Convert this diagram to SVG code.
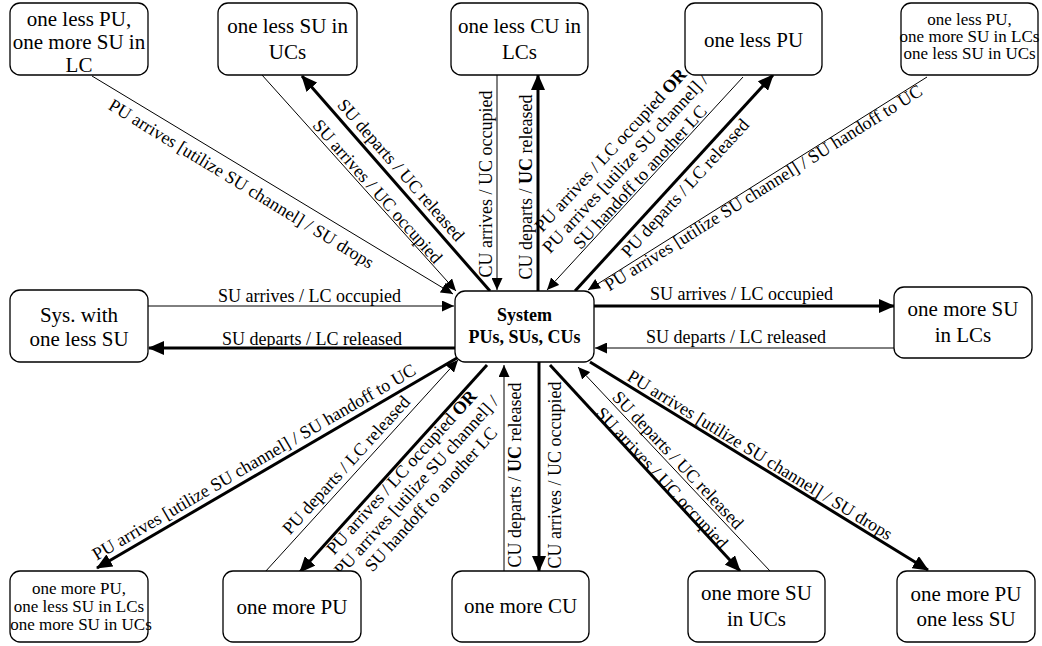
<svg xmlns="http://www.w3.org/2000/svg" width="1042" height="646" viewBox="0 0 1042 646">
<defs>
<marker id="a" markerWidth="12" markerHeight="11" refX="12" refY="5.5" orient="auto" markerUnits="userSpaceOnUse"><path d="M0,0 L12,5.5 L0,11 z" fill="#000"/></marker>
<marker id="b" markerWidth="16" markerHeight="14" refX="15" refY="7" orient="auto" markerUnits="userSpaceOnUse"><path d="M0,0 L16,7 L0,14 z" fill="#000"/></marker>
</defs>
<style>
.n rect{fill:#fff;stroke:#000;stroke-width:1.3}
.n text{font-family:"Liberation Serif","Times New Roman",serif;font-size:21px;text-anchor:middle;fill:#000}
.n text.s{font-size:17px}
.n text.c{font-size:18px;font-weight:bold}
.t{stroke:#000;stroke-width:1;marker-end:url(#a)}
.k{stroke:#000;stroke-width:3;marker-end:url(#b)}
.l{font-family:"Liberation Serif","Times New Roman",serif;font-size:18px;fill:#000}
.m{text-anchor:middle}
.e{text-anchor:end}
</style>
<rect width="1042" height="646" fill="#fff"/>
<g id="connectors">
<line class="t" x1="92" y1="76" x2="453" y2="294"/>
<line class="t" x1="262" y1="75" x2="456" y2="291"/>
<line class="k" x1="490" y1="291" x2="302" y2="76"/>
<line class="t" x1="497" y1="75" x2="497" y2="290"/>
<line class="k" x1="538" y1="291" x2="538" y2="75"/>
<line class="t" x1="743" y1="77" x2="547" y2="290"/>
<line class="k" x1="575" y1="291" x2="773" y2="75"/>
<line class="t" x1="927" y1="77" x2="588" y2="290"/>
<line class="t" x1="148" y1="306" x2="454" y2="306"/>
<line class="k" x1="455" y1="348" x2="149" y2="348"/>
<line class="k" x1="594" y1="306" x2="894" y2="306"/>
<line class="t" x1="894" y1="348" x2="595" y2="348"/>
<line class="k" x1="457" y1="358" x2="97" y2="568"/>
<line class="t" x1="265" y1="572" x2="458" y2="360"/>
<line class="k" x1="487" y1="365" x2="300" y2="572"/>
<line class="t" x1="504" y1="571" x2="504" y2="365"/>
<line class="k" x1="539" y1="362" x2="539" y2="571"/>
<line class="k" x1="550" y1="365" x2="740" y2="571"/>
<line class="t" x1="770" y1="571" x2="578" y2="367"/>
<line class="k" x1="590" y1="362" x2="928" y2="570"/>

<text class="l m" transform="translate(241.4,183.7) rotate(31.5)" y="6">PU arrives [utilize SU channel] / SU drops</text>
<text class="l m" transform="translate(377.6,191.4) rotate(48.5)" y="6">SU arrives / UC occupied</text>
<text class="l m" transform="translate(401,170) rotate(48.8)" y="6">SU departs / UC released</text>
<text class="l m" transform="translate(486,184) rotate(-90)" y="6">CU arrives / UC occupied</text>
<text class="l m" transform="translate(526,187) rotate(-90)" y="6">CU departs / <tspan font-weight="bold">UC</tspan> released</text>
<text class="l m" transform="translate(625.2,163.5) rotate(-47.4)"><tspan x="0" y="-14">PU arrives / LC occupied <tspan font-weight="bold">OR</tspan></tspan><tspan x="0" y="6">PU arrives [utilize SU channel] /</tspan><tspan x="0" y="26">SU handoff to another LC</tspan></text>
<text class="l m" transform="translate(685,188) rotate(-47.6)" y="6">PU departs / LC released</text>
<text class="l m" transform="translate(763.3,187.7) rotate(-32.1)" y="6">PU arrives [utilize SU channel] / SU handoff to UC</text>
<text class="l" x="218" y="302">SU arrives / LC occupied</text>
<text class="l" x="222" y="345">SU departs / LC released</text>
<text class="l e" x="833" y="300">SU arrives / LC occupied</text>
<text class="l e" x="826" y="343">SU departs / LC released</text>
<text class="l m" transform="translate(254,462) rotate(-30.3)" y="6">PU arrives [utilize SU channel] / SU handoff to UC</text>
<text class="l m" transform="translate(346,465) rotate(-47.7)" y="6">PU departs / LC released</text>
<text class="l m" transform="translate(416.2,485.7) rotate(-47.9)"><tspan x="0" y="-14">PU arrives / LC occupied <tspan font-weight="bold">OR</tspan></tspan><tspan x="0" y="6">PU arrives [utilize SU channel] /</tspan><tspan x="0" y="26">SU handoff to another LC</tspan></text>
<text class="l m" transform="translate(515,475) rotate(-90)" y="6">CU departs / <tspan font-weight="bold">UC</tspan> released</text>
<text class="l m" transform="translate(555,475) rotate(-90)" y="6">CU arrives / UC occupied</text>
<text class="l m" transform="translate(662,478) rotate(47.3)" y="6">SU arrives / UC occupied</text>
<text class="l m" transform="translate(678,460) rotate(46.7)" y="6">SU departs / UC released</text>
<text class="l m" transform="translate(760,455) rotate(31.6)" y="6">PU arrives [utilize SU channel] / SU drops</text>
</g>

<g id="n-center" class="n"><rect x="455" y="291" width="139" height="71" rx="10"/><text class="c" x="524.5" y="321">System</text><text class="c" x="524.5" y="343">PUs, SUs, CUs</text></g>
<g id="n-top1" class="n"><rect x="10" y="3" width="138" height="72" rx="10"/><text x="79" y="26">one less PU,</text><text x="79" y="49">one more SU in</text><text x="79" y="72">LC</text></g>
<g id="n-top2" class="n"><rect x="218" y="3" width="139" height="72" rx="10"/><text x="287.5" y="33">one less SU in</text><text x="287.5" y="59">UCs</text></g>
<g id="n-top3" class="n"><rect x="451" y="3" width="137" height="72" rx="10"/><text x="519.5" y="33">one less CU in</text><text x="519.5" y="59">LCs</text></g>
<g id="n-top4" class="n"><rect x="685" y="3" width="137" height="72" rx="10"/><text x="753.5" y="47">one less PU</text></g>
<g id="n-top5" class="n"><rect x="901" y="3" width="137" height="72" rx="10"/><text class="s" x="969.5" y="25">one less PU,</text><text class="s" x="969.5" y="42">one more SU in LCs</text><text class="s" x="969.5" y="59">one less SU in UCs</text></g>
<g id="n-left" class="n"><rect x="10" y="290" width="138" height="72" rx="10"/><text x="79" y="322">Sys. with</text><text x="79" y="346">one less SU</text></g>
<g id="n-right" class="n"><rect x="894" y="287" width="138" height="71" rx="10"/><text x="963" y="316">one more SU</text><text x="963" y="342">in LCs</text></g>
<g id="n-bot1" class="n"><rect x="10" y="571" width="138" height="71" rx="10"/><text class="s" x="79" y="594">one more PU,</text><text class="s" x="79" y="612">one less SU in LCs</text><text class="s" x="81" y="630">one more SU in UCs</text></g>
<g id="n-bot2" class="n"><rect x="223" y="571" width="138" height="71" rx="10"/><text x="292" y="614">one more PU</text></g>
<g id="n-bot3" class="n"><rect x="452" y="571" width="137" height="71" rx="10"/><text x="520.5" y="613">one more CU</text></g>
<g id="n-bot4" class="n"><rect x="688" y="571" width="137" height="71" rx="10"/><text x="756.5" y="600">one more SU</text><text x="756.5" y="626">in UCs</text></g>
<g id="n-bot5" class="n"><rect x="897" y="571" width="138" height="71" rx="10"/><text x="966" y="601">one more PU</text><text x="966" y="626">one less SU</text></g>
</svg>
